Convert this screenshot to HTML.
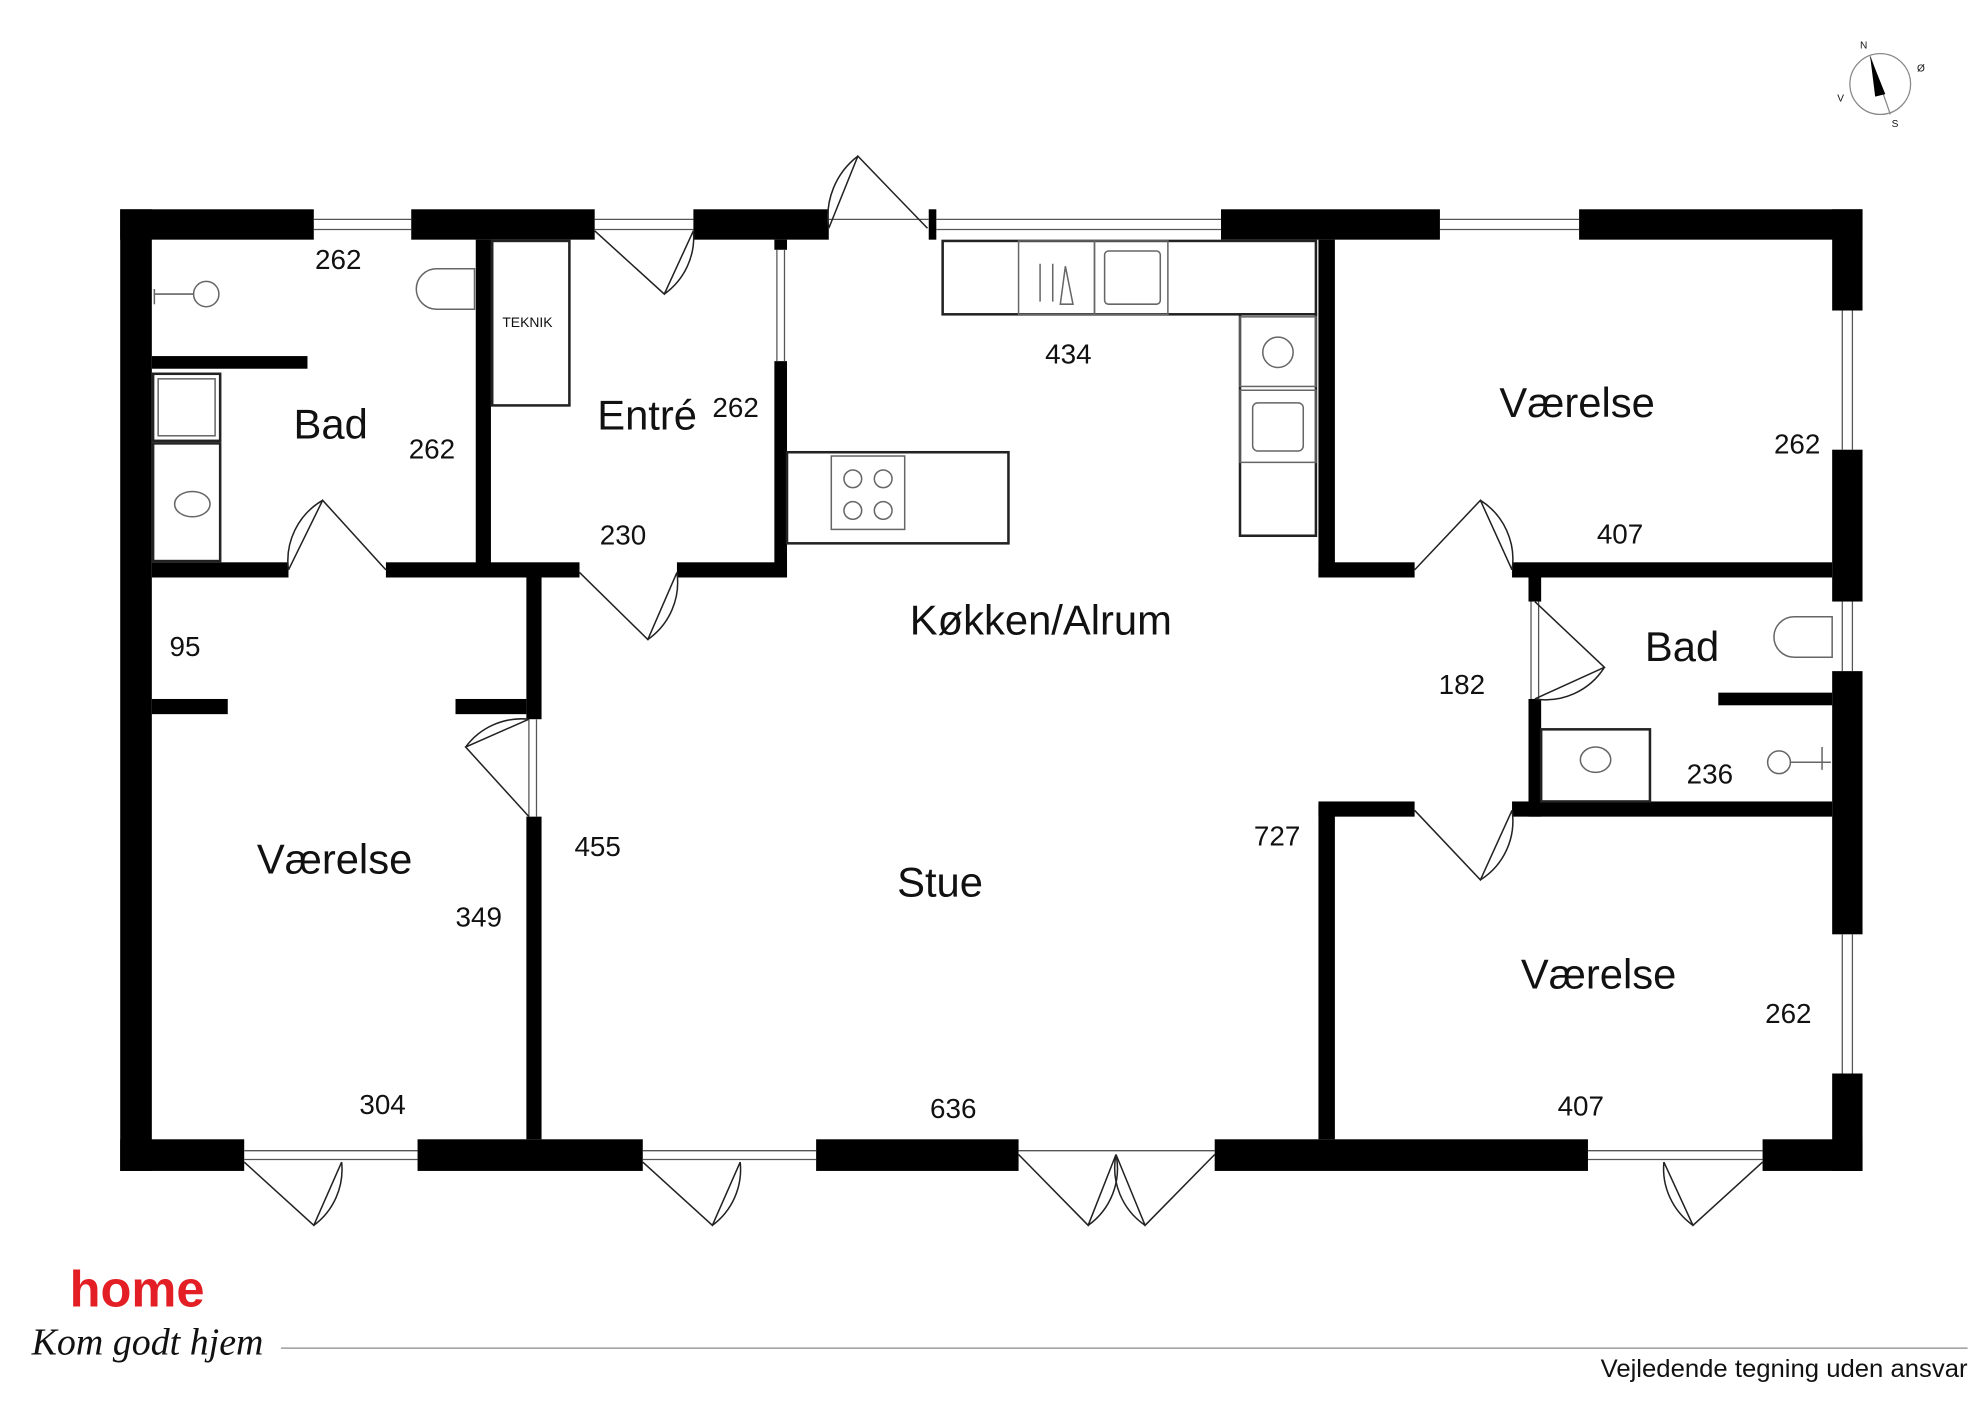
<!DOCTYPE html>
<html><head><meta charset="utf-8"><style>
html,body{margin:0;padding:0;background:#fff;}
svg{display:block}
text{font-family:"Liberation Sans",sans-serif;fill:#111}
</style></head><body>
<svg width="1984" height="1403" viewBox="0 0 1568 1108" xmlns="http://www.w3.org/2000/svg">
<rect width="1568" height="1108" fill="#fff"/>
<g fill="#000">
<rect x="95" y="165" width="153" height="24"/>
<rect x="325" y="165" width="145" height="24"/>
<rect x="548" y="165" width="107" height="24"/>
<rect x="734" y="165" width="6" height="24"/>
<rect x="965" y="165" width="173" height="24"/>
<rect x="1248" y="165" width="224" height="24"/>
<rect x="95" y="165" width="25" height="760"/>
<rect x="1448" y="165" width="24" height="80"/>
<rect x="1448" y="355" width="24" height="120"/>
<rect x="1448" y="530" width="24" height="208"/>
<rect x="1448" y="848" width="24" height="77"/>
<rect x="95" y="900" width="98" height="25"/>
<rect x="330" y="900" width="178" height="25"/>
<rect x="645" y="900" width="160" height="25"/>
<rect x="960" y="900" width="295" height="25"/>
<rect x="1393" y="900" width="79" height="25"/>
<rect x="376" y="189" width="12" height="267"/>
<rect x="120" y="444" width="108" height="12"/>
<rect x="305" y="444" width="153" height="12"/>
<rect x="535" y="444" width="87" height="12"/>
<rect x="120" y="281" width="123" height="10"/>
<rect x="612" y="285" width="10" height="171"/>
<rect x="612" y="189" width="10" height="8"/>
<rect x="416" y="456" width="12" height="112"/>
<rect x="416" y="645" width="12" height="255"/>
<rect x="120" y="552" width="60" height="12"/>
<rect x="360" y="552" width="56" height="12"/>
<rect x="1042" y="189" width="13" height="267"/>
<rect x="1042" y="635" width="13" height="265"/>
<rect x="1042" y="444" width="76" height="12"/>
<rect x="1195" y="444" width="253" height="12"/>
<rect x="1208" y="456" width="10" height="19"/>
<rect x="1208" y="552" width="10" height="93"/>
<rect x="1042" y="633" width="76" height="12"/>
<rect x="1195" y="633" width="253" height="12"/>
<rect x="1358" y="547" width="90" height="10"/>
</g>
<g stroke="#555" stroke-width="1" fill="none">
<path d="M248 173H325M248 181H325M470 173H548M470 181H548M655 173H734M740 173H965M740 181H965M1138 173H1248M1138 181H1248"/>
<path d="M1456 245V355M1464 245V355M1456 475V530M1464 475V530M1456 738V848M1464 738V848"/>
<path d="M193 909H330M193 916H330M508 909H645M508 916H645M805 909H960M1255 909H1393M1255 916H1393"/>
<path d="M614 197V285M620 197V285M418 568V645M424 568V645M1210 475V552M1216 475V552"/>
</g>
<g stroke="#222" stroke-width="1.2" fill="none">
<path d="M655 180L678 123L733 180M678 123A60 60 0 0 0 655 180"/>
<path d="M228 450L255 395L305 450M255 395A55 55 0 0 0 228 450"/>
<path d="M470 182L525 232L548 182M525 232A55 55 0 0 0 548 182"/>
<path d="M458 452L512 505L535 452M512 505A55 55 0 0 0 535 452"/>
<path d="M418 568L368 590L418 645M368 590A55 55 0 0 1 418 568"/>
<path d="M1118 450L1170 395L1195 450M1170 395A55 55 0 0 1 1195 450"/>
<path d="M1213 475L1268 527L1213 552M1268 527A55 55 0 0 1 1213 552"/>
<path d="M1118 640L1170 695L1195 640M1170 695A55 55 0 0 0 1195 640"/>
<path d="M193 918L248 968L270 918M248 968A55 55 0 0 0 270 918"/>
<path d="M508 918L563 968L585 918M563 968A55 55 0 0 0 585 918"/>
<path d="M805 912L860 968L882 912M860 968A55 55 0 0 0 882 912"/>
<path d="M882 912L905 968L960 912M905 968A55 55 0 0 1 882 912"/>
<path d="M1315 918L1338 968L1393 918M1338 968A55 55 0 0 1 1315 918"/>
</g>
<g stroke="#222" stroke-width="2" fill="#fff">
<rect x="745" y="190" width="295" height="58"/>
<rect x="980" y="248" width="60" height="175"/>
<rect x="622" y="357" width="175" height="72"/>
<rect x="389" y="190" width="61" height="130"/>
<rect x="121" y="295" width="53" height="53"/>
<rect x="121" y="350" width="53" height="93"/>
<rect x="1218" y="576" width="86" height="57"/>
</g>
<g stroke="#666" stroke-width="1.2" fill="none">
<rect x="805" y="190" width="60" height="58"/><rect x="865" y="190" width="58" height="58"/>
<rect x="873" y="198" width="44" height="42" rx="3"/>
<rect x="980" y="250" width="60" height="55"/><rect x="980" y="308" width="60" height="57"/>
<rect x="990" y="318" width="40" height="38" rx="4"/>
<rect x="657" y="360" width="58" height="58"/>
<circle cx="674" cy="378" r="7"/><circle cx="698" cy="378" r="7"/><circle cx="674" cy="403" r="7"/><circle cx="698" cy="403" r="7"/>
<circle cx="1010" cy="278" r="12"/>
<rect x="125" y="299" width="45" height="45"/>
<ellipse cx="152" cy="398" rx="14" ry="10"/>
<ellipse cx="1261" cy="600" rx="12" ry="10"/>
<path d="M375 212H345A16 16 0 0 0 345 244H375Z"/>
<path d="M1448 487H1418A16 16 0 0 0 1418 519H1448Z"/>
<circle cx="163" cy="232" r="10"/><path d="M122 232H153M122 228V240"/>
<circle cx="1406" cy="602" r="9"/><path d="M1415 602H1447M1440 590V608"/>
<path d="M822 208V238M832 208V238M842 210L848 240L838 240Z"/>
</g>
<g font-size="33">
<text x="232" y="346">Bad</text>
<text x="472" y="339">Entré</text>
<text x="1185" y="329">Værelse</text>
<text x="719" y="501">Køkken/Alrum</text>
<text x="1300" y="522">Bad</text>
<text x="203" y="690">Værelse</text>
<text x="709" y="708">Stue</text>
<text x="1202" y="781">Værelse</text>
</g>
<g font-size="22">
<text x="249" y="212">262</text>
<text x="323" y="362">262</text>
<text x="563" y="329">262</text>
<text x="474" y="430">230</text>
<text x="826" y="287">434</text>
<text x="1402" y="358">262</text>
<text x="1262" y="429">407</text>
<text x="134" y="518">95</text>
<text x="1137" y="548">182</text>
<text x="1333" y="619">236</text>
<text x="454" y="676">455</text>
<text x="991" y="668">727</text>
<text x="360" y="732">349</text>
<text x="1395" y="808">262</text>
<text x="284" y="880">304</text>
<text x="735" y="883">636</text>
<text x="1231" y="881">407</text>
</g>
<text x="397" y="258" font-size="11">TEKNIK</text>
<g stroke="#888" fill="none" stroke-width="1">
<circle cx="1486" cy="66" r="24"/>
<path d="M1478 44L1494 90" />
</g>
<path d="M1478 44L1490 74L1482 76Z" fill="#000"/>
<g font-size="8" fill="#333"><text x="1470" y="38">N</text><text x="1515" y="56">Ø</text><text x="1495" y="100">S</text><text x="1452" y="80">V</text></g>
<text x="55" y="1032" font-size="40" font-weight="bold" style="fill:#e31e24">home</text>
<text x="25" y="1070" font-size="30" font-style="italic" style="font-family:'Liberation Serif',serif">Kom godt hjem</text>
<path d="M222 1065H1555" stroke="#888" stroke-width="1"/>
<text x="1265" y="1088" font-size="20" font-weight="bold" textLength="290" lengthAdjust="spacingAndGlyphs" style="font-weight:500">Vejledende tegning uden ansvar</text>
</svg>
</body></html>
